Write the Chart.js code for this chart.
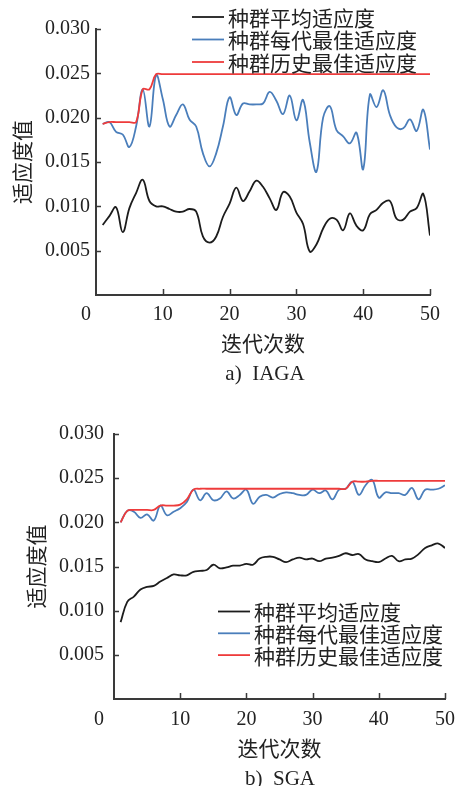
<!DOCTYPE html>
<html>
<head>
<meta charset="utf-8">
<script src="https://cdn.jsdelivr.net/npm/chart.js@4.4.1/dist/chart.umd.min.js"></script>
<style>
  body { margin: 0; background: #fff; }
  canvas { position: absolute; left: 0; }
  #iaga { top: 0; }
  #sga { top: 400px; }
</style>
</head>
<body>
<canvas id="iaga" width="456" height="392"></canvas>
<canvas id="sga" width="456" height="386"></canvas>
<script>
// generation index
const generations = [1, 2, 3, 4, 5, 6, 7, 8, 9, 10, 11, 12, 13, 14, 15, 16, 17, 18, 19, 20,
  21, 22, 23, 24, 25, 26, 27, 28, 29, 30, 31, 32, 33, 34, 35, 36, 37, 38, 39, 40,
  41, 42, 43, 44, 45, 46, 47, 48, 49, 50]

const seriesNames = ["种群平均适应度", "种群每代最佳适应度", "种群历史最佳适应度"]
const seriesColors = ["#1c1c1c", "#4a7ebb", "#ee3b3b"]

const xTicks = [0, 10, 20, 30, 40, 50]
const yTicks = [0, 0.005, 0.010, 0.015, 0.020, 0.025, 0.030]

// IAGA
const iagaAvg = [0.0079, 0.0089, 0.0099, 0.0071, 0.0098, 0.0115, 0.0130, 0.0106, 0.0100, 0.0100,
  0.0097, 0.0094, 0.0094, 0.0097, 0.0094, 0.0066, 0.0059, 0.0066, 0.0088, 0.0103,
  0.0121, 0.0106, 0.0117, 0.0129, 0.0122, 0.0109, 0.0096, 0.0116, 0.0111, 0.0093,
  0.0080, 0.0049, 0.0057, 0.0075, 0.0086, 0.0085, 0.0073, 0.0092, 0.0078, 0.0073,
  0.0091, 0.0096, 0.0104, 0.0106, 0.0086, 0.0085, 0.0094, 0.0098, 0.0114, 0.0067]
const iagaBest = [0.0193, 0.0195, 0.0184, 0.0181, 0.0167, 0.0190, 0.0232, 0.0190, 0.0248, 0.0221,
  0.0190, 0.0203, 0.0215, 0.0198, 0.0190, 0.0160, 0.0145, 0.0160, 0.0190, 0.0223,
  0.0203, 0.0216, 0.0215, 0.0215, 0.0216, 0.0229, 0.0219, 0.0204, 0.0225, 0.0197,
  0.0220, 0.0172, 0.0139, 0.0200, 0.0213, 0.0186, 0.0179, 0.0171, 0.0183, 0.0142,
  0.0226, 0.0212, 0.0231, 0.0203, 0.0189, 0.0188, 0.0198, 0.0185, 0.0209, 0.0164]
const iagaHist = [0.0193, 0.0195, 0.0195, 0.0195, 0.0195, 0.0195, 0.0232, 0.0232, 0.0249, 0.0249,
  0.0249, 0.0249, 0.0249, 0.0249, 0.0249, 0.0249, 0.0249, 0.0249, 0.0249, 0.0249,
  0.0249, 0.0249, 0.0249, 0.0249, 0.0249, 0.0249, 0.0249, 0.0249, 0.0249, 0.0249,
  0.0249, 0.0249, 0.0249, 0.0249, 0.0249, 0.0249, 0.0249, 0.0249, 0.0249, 0.0249,
  0.0249, 0.0249, 0.0249, 0.0249, 0.0249, 0.0249, 0.0249, 0.0249, 0.0249, 0.0249]

// SGA
const sgaAvg = [0.0087, 0.0110, 0.0116, 0.0124, 0.0127, 0.0128, 0.0133, 0.0137, 0.0141, 0.0140,
  0.0140, 0.0144, 0.0145, 0.0146, 0.0152, 0.0148, 0.0149, 0.0151, 0.0151, 0.0153,
  0.0152, 0.0159, 0.0161, 0.0161, 0.0158, 0.0155, 0.0158, 0.0160, 0.0158, 0.0159,
  0.0156, 0.0159, 0.0160, 0.0162, 0.0165, 0.0163, 0.0164, 0.0158, 0.0156, 0.0155,
  0.0159, 0.0162, 0.0156, 0.0158, 0.0159, 0.0164, 0.0171, 0.0174, 0.0176, 0.0171]
const sgaBest = [0.0200, 0.0213, 0.0212, 0.0205, 0.0209, 0.0202, 0.0219, 0.0208, 0.0212, 0.0216,
  0.0223, 0.0237, 0.0225, 0.0233, 0.0225, 0.0227, 0.0235, 0.0227, 0.0231, 0.0237,
  0.0221, 0.0229, 0.0231, 0.0228, 0.0232, 0.0234, 0.0233, 0.0231, 0.0231, 0.0237,
  0.0233, 0.0236, 0.0226, 0.0237, 0.0238, 0.0246, 0.0231, 0.0242, 0.0248, 0.0228,
  0.0234, 0.0233, 0.0233, 0.0231, 0.0239, 0.0226, 0.0237, 0.0237, 0.0238, 0.0242]
const sgaHist = [0.0200, 0.0213, 0.0214, 0.0214, 0.0214, 0.0214, 0.0219, 0.0219, 0.0219, 0.0220,
  0.0226, 0.0237, 0.0238, 0.0238, 0.0238, 0.0238, 0.0238, 0.0238, 0.0238, 0.0238,
  0.0238, 0.0238, 0.0238, 0.0238, 0.0238, 0.0238, 0.0238, 0.0238, 0.0238, 0.0238,
  0.0238, 0.0238, 0.0238, 0.0238, 0.0238, 0.0246, 0.0246, 0.0246, 0.0247, 0.0247,
  0.0247, 0.0247, 0.0247, 0.0247, 0.0247, 0.0247, 0.0247, 0.0247, 0.0247, 0.0247]

const serif = "'Liberation Serif', 'Noto Sans CJK SC', serif"
const cjk = "'Noto Sans CJK SC', sans-serif"
const textColor = "#222"
const axisColor = "#3a3a3a"

// short tick marks pointing into the plot
const innerTicks = {
  id: "innerTicks",
  afterDraw(chart) {
    const { ctx, chartArea, scales } = chart
    ctx.save()
    ctx.strokeStyle = axisColor
    ctx.lineWidth = 1.5
    ctx.beginPath()
    scales.x.ticks.forEach(t => {
      if (t.value === 0) return
      const px = Math.round(scales.x.getPixelForValue(t.value)) + 0.5
      ctx.moveTo(px, chartArea.bottom)
      ctx.lineTo(px, chartArea.bottom - 6)
    })
    scales.y.ticks.forEach(t => {
      if (t.value === 0) return
      const py = Math.round(scales.y.getPixelForValue(t.value)) + 0.5
      ctx.moveTo(chartArea.left, py)
      ctx.lineTo(chartArea.left + 5, py)
    })
    ctx.stroke()
    ctx.restore()
  }
}

// legend block and the figure caption underneath
const figureText = {
  id: "figureText",
  afterDraw(chart, args, opts) {
    const ctx = chart.ctx
    ctx.save()
    ctx.textBaseline = "middle"
    ctx.font = "21px " + cjk
    chart.data.datasets.forEach((ds, i) => {
      const y = opts.legendY + i * opts.rowGap
      ctx.strokeStyle = ds.borderColor
      ctx.lineWidth = 1.8
      ctx.beginPath()
      ctx.moveTo(opts.legendX, y)
      ctx.lineTo(opts.legendX + 32, y)
      ctx.stroke()
      ctx.fillStyle = textColor
      ctx.textAlign = "left"
      ctx.fillText(ds.label, opts.legendX + 36, y + 1)
    })
    ctx.font = "21px " + serif
    ctx.textAlign = "center"
    ctx.fillText(opts.caption, opts.captionX, opts.captionY)
    ctx.restore()
  }
}

function makeDatasets(avg, best, hist) {
  return [avg, best, hist].map((vals, i) => ({
    label: seriesNames[i],
    data: generations.map((g, k) => ({ x: g, y: vals[k] })),
    borderColor: seriesColors[i],
    borderWidth: 1.8,
    pointRadius: 0,
    tension: 0.4,
    fill: false,
    order: 3 - i
  }))
}

function makeChart(id, sets, lay) {
  return new Chart(document.getElementById(id), {
    type: "line",
    data: { datasets: sets },
    plugins: [innerTicks, figureText],
    options: {
      responsive: false,
      animation: false,
      layout: { padding: { top: lay.top, right: lay.right, left: 0, bottom: 0 } },
      scales: {
        x: {
          type: "linear",
          min: 0,
          max: 50,
          afterBuildTicks: s => { s.ticks = xTicks.map(v => ({ value: v })) },
          afterFit: s => { s.height = lay.xHeight; s.paddingRight = 0 },
          grid: { display: false, drawTicks: false },
          border: { color: axisColor, width: 2 },
          ticks: {
            padding: lay.xPad,
            color: textColor,
            font: { family: serif, size: 20 },
            callback: v => v === 0 ? lay.zeroLabel : String(v)
          },
          title: {
            display: true,
            text: "迭代次数",
            color: textColor,
            font: { family: cjk, size: 21 },
            padding: { top: 0, bottom: lay.xTitlePad }
          }
        },
        y: {
          min: 0,
          max: 0.03,
          afterBuildTicks: s => { s.ticks = yTicks.map(v => ({ value: v })) },
          afterFit: s => { s.width = lay.yWidth },
          grid: { display: false, drawTicks: false },
          border: { color: axisColor, width: 2 },
          ticks: {
            padding: lay.yPad,
            color: textColor,
            font: { family: serif, size: 20 },
            callback: v => v === 0 ? "" : v.toFixed(3)
          },
          title: {
            display: true,
            text: "适应度值",
            color: textColor,
            font: { family: cjk, size: 21 },
            padding: { top: lay.yTitlePad, bottom: 0 }
          }
        }
      },
      plugins: {
        legend: { display: false },
        tooltip: { enabled: false },
        figureText: lay.text
      }
    }
  })
}

makeChart("iaga", makeDatasets(iagaAvg, iagaBest, iagaHist), {
  top: 29, right: 26, xHeight: 97, yWidth: 96,
  xPad: 8, yPad: 6, xTitlePad: 36, yTitlePad: 9,
  zeroLabel: "0\u2003",
  text: { legendX: 192, legendY: 17, rowGap: 22.5, caption: "a)  IAGA", captionX: 265, captionY: 374 }
})

makeChart("sga", makeDatasets(sgaAvg, sgaBest, sgaHist), {
  top: 34, right: 11, xHeight: 87, yWidth: 114,
  xPad: 9, yPad: 10, xTitlePad: 25, yTitlePad: 23,
  zeroLabel: "0\u2003\u2002",
  text: { legendX: 218, legendY: 211.5, rowGap: 21.8, caption: "b)  SGA", captionX: 280, captionY: 379 }
})
</script>
</body>
</html>
